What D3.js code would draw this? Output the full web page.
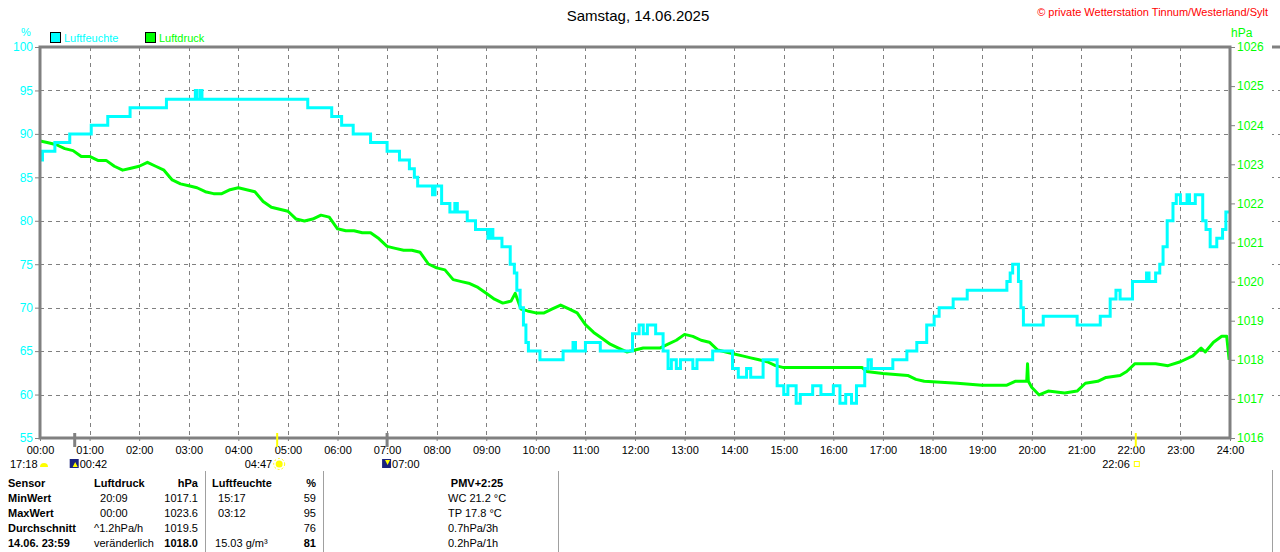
<!DOCTYPE html>
<html>
<head>
<meta charset="utf-8">
<script src="https://cdn.jsdelivr.net/npm/d3@7"></script>
<style>
  body { margin: 0; background: #fff; }
  svg { display: block; font-family: "Liberation Sans", Arial, sans-serif; }
</style>
</head>
<body>
<script>
// Luftfeuchte (%) - Stufen
const humTimes = ["00:00","00:03","00:18","00:36","01:02","01:22","01:49","02:33","03:08","03:10","03:14","03:16",
  "05:24","05:53","06:05","06:19","06:40","07:00","07:15","07:27","07:33","07:37","07:55","07:58","08:06","08:16",
  "08:22","08:25","08:37","08:47","09:02","09:05","09:08","09:19","09:29","09:34","09:37","09:41","09:45","09:48",
  "09:51","10:05","10:33","10:45","10:48","11:00","11:09","11:18","11:57","12:05","12:10","12:15","12:25","12:34",
  "12:40","12:44","12:50","12:55","13:10","13:15","13:34","13:58","14:05","14:15","14:20","14:35","14:52","15:00",
  "15:05","15:15","15:20","15:35","15:45","16:00","16:08","16:15","16:22","16:28","16:38","16:42","16:46","17:12",
  "17:29","17:41","17:53","18:02","18:08","18:25","18:42","19:30","19:34","19:37","19:44","19:47","19:50","20:14",
  "20:55","21:23","21:35","21:42","21:47","22:02","22:19","22:22","22:30","22:35","22:39","22:44","22:51","22:55",
  "23:00","23:08","23:11","23:18","23:27","23:31","23:36","23:44","23:51","23:55","23:59"];
const humValues = [87,88,89,90,91,92,93,94,95,94,95,94,
  93,92,91,90,89,88,87,86,85,84,83,84,82,81,
  82,81,80,79,78,79,78,77,75,74,72,70,68,66,
  65,64,65,66,65,66,66,65,67,68,67,68,67,65,
  63,64,63,64,63,64,65,63,62,63,62,64,61,60,
  61,59,60,61,60,61,59,60,59,61,63,64,63,64,
  65,66,68,69,70,71,72,73,74,75,73,70,68,69,
  68,69,71,72,71,73,74,73,74,75,77,80,82,83,
  82,83,82,83,80,79,77,78,79,81,81];

// Luftdruck (hPa)
const presTimes = ["00:00","00:10","00:20","00:30","00:40","00:50","01:00","01:10","01:20","01:30","01:40","01:50",
  "02:00","02:10","02:20","02:30","02:40","02:50","03:00","03:10","03:20","03:30","03:40","03:50","04:00","04:10",
  "04:20","04:30","04:40","04:50","05:00","05:10","05:20","05:30","05:40","05:50","06:00","06:10","06:20","06:30",
  "06:40","06:50","07:00","07:10","07:20","07:30","07:40","07:50","08:00","08:10","08:20","08:30","08:40","08:50",
  "09:00","09:10","09:20","09:30","09:35","09:42","09:50","10:00","10:10","10:20","10:30","10:40","10:50","11:00",
  "11:10","11:20","11:30","11:40","11:50","12:00","12:10","12:20","12:30","12:40","12:50","13:00","13:10","13:20",
  "13:30","13:40","13:50","14:00","14:10","14:20","14:30","14:40","14:50","15:00","15:30","16:00","16:35","16:40",
  "17:00","17:30","17:40","17:50","18:30","19:00","19:30","19:40","19:54","19:55","19:56","20:00","20:09","20:20",
  "20:40","20:55","21:05","21:20","21:30","21:47","21:55","22:05","22:30","22:45","23:00","23:15","23:25","23:30",
  "23:40","23:50","23:56","23:59"];
const presValues = [1023.6,1023.55,1023.5,1023.4,1023.35,1023.2,1023.2,1023.1,1023.1,1022.95,1022.85,1022.9,
  1022.95,1023.05,1022.95,1022.85,1022.6,1022.5,1022.45,1022.4,1022.3,1022.25,1022.25,1022.35,1022.4,1022.35,
  1022.3,1022.05,1021.9,1021.85,1021.8,1021.6,1021.55,1021.6,1021.7,1021.65,1021.35,1021.3,1021.3,1021.25,
  1021.25,1021.1,1020.9,1020.85,1020.8,1020.8,1020.75,1020.45,1020.35,1020.3,1020.05,1020.0,1019.95,1019.85,
  1019.7,1019.55,1019.45,1019.5,1019.7,1019.3,1019.25,1019.2,1019.2,1019.3,1019.4,1019.3,1019.2,1018.9,
  1018.7,1018.55,1018.4,1018.3,1018.2,1018.25,1018.3,1018.3,1018.3,1018.4,1018.5,1018.65,1018.6,1018.5,
  1018.45,1018.25,1018.2,1018.15,1018.1,1018.05,1018.0,1017.95,1017.85,1017.8,1017.8,1017.8,1017.8,1017.7,
  1017.65,1017.6,1017.5,1017.45,1017.4,1017.35,1017.35,1017.45,1017.45,1017.9,1017.45,1017.3,1017.1,1017.2,
  1017.15,1017.2,1017.4,1017.45,1017.55,1017.6,1017.7,1017.9,1017.9,1017.85,1017.95,1018.1,1018.3,1018.2,
  1018.45,1018.6,1018.6,1018.0];

const humTicks = [55, 60, 65, 70, 75, 80, 85, 90, 95, 100];
const presTicks = [1016, 1017, 1018, 1019, 1020, 1021, 1022, 1023, 1024, 1025, 1026];
const hourLabels = d3.range(0, 25).map(h => String(h).padStart(2, "0") + ":00");

// Mond/Sonne Ereignisse
const events = [
  { time: "00:42", label: "00:42", kind: "moonrise" },
  { time: "04:47", label: "04:47", kind: "sunrise" },
  { time: "07:00", label: "07:00", kind: "moonset" },
  { time: "22:06", label: "22:06", kind: "sunset" }
];

// Tabelle
const tableRows = [
  ["Sensor", "Luftdruck", "hPa", "Luftfeuchte", "%", "PMV+2:25"],
  ["MinWert", "  20:09", "1017.1", "  15:17", "59", "WC 21.2 °C"],
  ["MaxWert", "  00:00", "1023.6", "  03:12", "95", "TP 17.8 °C"],
  ["Durchschnitt", "^1.2hPa/h", "1019.5", "", "76", "0.7hPa/3h"],
  ["14.06. 23:59", "veränderlich", "1018.0", " 15.03 g/m³", "81", "0.2hPa/1h"]
];

const toMin = t => { const [h, m] = t.split(":").map(Number); return h * 60 + m; };

const W = 1280, H = 552;
const plotL = 40, plotR = 1230, plotT = 47, plotB = 438;
const CYAN = "#00ffff", GREEN = "#00ff00", GRAY = "#808080";

const svg = d3.select("body").append("svg").attr("width", W).attr("height", H);

const x = d3.scaleLinear().domain([0, 1440]).range([plotL, plotR]);
const yHum = d3.scaleLinear().domain([55, 100]).range([plotB, plotT]);
const yPres = d3.scaleLinear().domain([1016, 1026]).range([plotB, plotT]);

// Titel
svg.append("text").attr("x", 638).attr("y", 21).attr("text-anchor", "middle")
  .style("font-size", "15px").text("Samstag, 14.06.2025");
svg.append("text").attr("x", 1268).attr("y", 16).attr("text-anchor", "end")
  .style("font-size", "11px").attr("fill", "#ff0000")
  .text("© private Wetterstation Tinnum/Westerland/Sylt");

// Legende
const legend = [{ name: "Luftfeuchte", color: CYAN, x: 50 }, { name: "Luftdruck", color: GREEN, x: 145 }];
legend.forEach(l => {
  svg.append("rect").attr("x", l.x + 0.5).attr("y", 32.5).attr("width", 10).attr("height", 10)
    .attr("fill", l.color).attr("stroke", "#000");
  svg.append("text").attr("x", l.x + 14).attr("y", 42).attr("fill", l.color)
    .style("font-size", "11px").text(l.name);
});
svg.append("text").attr("x", 26).attr("y", 36).attr("text-anchor", "middle").attr("fill", CYAN)
  .style("font-size", "11px").text("%");
svg.append("text").attr("x", 1231).attr("y", 37).attr("fill", GREEN)
  .style("font-size", "12px").text("hPa");

// Gitter
const grid = svg.append("g").attr("stroke", GRAY).attr("stroke-width", 1).attr("stroke-dasharray", "4,4");
grid.selectAll("line.h").data(humTicks.filter(v => v > 55 && v < 100)).join("line")
  .attr("x1", plotL).attr("x2", plotR)
  .attr("y1", d => Math.round(yHum(d)) + 0.5).attr("y2", d => Math.round(yHum(d)) + 0.5);
grid.selectAll("line.v").data(d3.range(1, 24)).join("line")
  .attr("x1", d => Math.round(x(d * 60)) + 0.5).attr("x2", d => Math.round(x(d * 60)) + 0.5)
  .attr("y1", plotT).attr("y2", plotB);

// Linien
svg.append("clipPath").attr("id", "plot").append("rect")
  .attr("x", plotL).attr("y", plotT).attr("width", plotR - plotL).attr("height", plotB - plotT);

const humData = humTimes.map((t, i) => [toMin(t), humValues[i]]);
const presData = presTimes.map((t, i) => [toMin(t), presValues[i]]);

svg.append("path").datum(presData).attr("clip-path", "url(#plot)")
  .attr("fill", "none").attr("stroke", GREEN).attr("stroke-width", 3).attr("stroke-linejoin", "round")
  .attr("d", d3.line().x(d => x(d[0])).y(d => yPres(d[1])));
svg.append("path").datum(humData).attr("clip-path", "url(#plot)")
  .attr("fill", "none").attr("stroke", CYAN).attr("stroke-width", 3)
  .attr("d", d3.line().curve(d3.curveStepAfter).x(d => x(d[0])).y(d => yHum(d[1])));

// Achsen
const axL = svg.append("g").attr("transform", `translate(${plotL},0)`)
  .call(d3.axisLeft(yHum).tickValues(humTicks).tickSize(5).tickPadding(2));
axL.select(".domain").remove();
axL.selectAll("line").attr("stroke", GRAY);
axL.selectAll("text").attr("fill", CYAN).style("font-size", "12px").style("font-family", "inherit");

const axR = svg.append("g").attr("transform", `translate(${plotR},0)`)
  .call(d3.axisRight(yPres).tickValues(presTicks).tickSize(5).tickPadding(2).tickFormat(d3.format("d")));
axR.select(".domain").remove();
axR.selectAll("line").attr("stroke", GRAY);
axR.selectAll("text").attr("fill", GREEN).style("font-size", "12px").style("font-family", "inherit");

const axB = svg.append("g").attr("transform", `translate(0,${plotB})`)
  .call(d3.axisBottom(x).tickValues(d3.range(0, 1441, 60)).tickSize(3).tickPadding(5)
    .tickFormat((d, i) => hourLabels[i]));
axB.select(".domain").remove();
axB.selectAll("line").attr("stroke", GRAY);
axB.selectAll("text").attr("fill", "#000").style("font-size", "11px").style("font-family", "inherit");

// Rahmen
svg.append("path").attr("fill", "none").attr("stroke", GRAY).attr("stroke-width", 3)
  .attr("d", `M${plotL},${plotT}H${plotR}V${plotB}H${plotL}Z`);

// Mond / Sonne
const ev = svg.append("g");
events.forEach(e => {
  const ex = x(toMin(e.time));
  const isSun = e.kind.startsWith("sun");
  ev.append("line").attr("x1", ex).attr("x2", ex).attr("y1", plotB - 5).attr("y2", plotB + 9)
    .attr("stroke", isSun ? "#ffff00" : GRAY).attr("stroke-width", isSun ? 2 : 3);
  if (e.kind === "moonrise" || e.kind === "moonset") {
    const up = e.kind === "moonrise";
    ev.append("rect").attr("x", ex - 5).attr("y", 459).attr("width", 9).attr("height", 9).attr("fill", "#1a237e");
    ev.append("path").attr("d", `M${ex - 2},${up ? 467 : 460}l2.5,${up ? -5 : 5}l2.5,${up ? 5 : -5}z`)
      .attr("fill", "#ffff00");
    ev.append("text").attr("x", ex + 5).attr("y", 468).style("font-size", "11px").text(e.label);
  } else if (e.kind === "sunrise") {
    ev.append("circle").attr("cx", ex + 2).attr("cy", 464).attr("r", 3.5).attr("fill", "#ffff00");
    ev.append("circle").attr("cx", ex + 2).attr("cy", 464).attr("r", 5.5).attr("fill", "none")
      .attr("stroke", "#ffff00").attr("stroke-dasharray", "2,2");
    ev.append("text").attr("x", ex - 5).attr("y", 468).attr("text-anchor", "end").style("font-size", "11px").text(e.label);
  } else {
    ev.append("rect").attr("x", ex - 1.5).attr("y", 461.5).attr("width", 5).attr("height", 5)
      .attr("fill", "none").attr("stroke", "#ffff00");
    ev.append("text").attr("x", ex - 6).attr("y", 468).attr("text-anchor", "end").style("font-size", "11px").text(e.label);
  }
});
// Monduntergang vom Vortag
ev.append("text").attr("x", 10).attr("y", 468).style("font-size", "11px").text("17:18");
ev.append("path").attr("d", "M40,467a4,4 0 0 1 8,0z").attr("fill", "#ffff00");

// Tabelle
const tbl = svg.append("g").style("font-size", "11px");
[205, 323, 558].forEach(sx => tbl.append("line").attr("x1", sx + 0.5).attr("x2", sx + 0.5)
  .attr("y1", 471).attr("y2", H).attr("stroke", "#a0a0a0"));
const cols = [
  { x: 8, anchor: "start", bold: () => true },
  { x: 94, anchor: "start", bold: r => r === 0 },
  { x: 198, anchor: "end", bold: r => r === 0 || r === 4 },
  { x: 212, anchor: "start", bold: r => r === 0 },
  { x: 316, anchor: "end", bold: r => r === 0 || r === 4 },
  { x: 448, anchor: "start", bold: r => r === 0 }
];
tableRows.forEach((row, r) => {
  row.forEach((cell, c) => {
    const col = cols[c];
    const centered = c === 5 && r === 0;
    tbl.append("text").attr("x", centered ? 477 : col.x).attr("y", 487 + r * 15)
      .attr("text-anchor", centered ? "middle" : col.anchor)
      .style("font-weight", col.bold(r) ? "bold" : "normal")
      .style("white-space", "pre")
      .text(cell);
  });
});

// Anschnitt der folgenden Grafik
const nx = 1272;
svg.append("line").attr("x1", nx).attr("x2", W).attr("y1", plotT).attr("y2", plotT)
  .attr("stroke", GRAY).attr("stroke-width", 3);
svg.append("g").selectAll("line").data(humTicks.filter(v => v > 55 && v < 100)).join("line")
  .attr("x1", nx).attr("x2", W).attr("y1", d => Math.round(yHum(d)) + 0.5).attr("y2", d => Math.round(yHum(d)) + 0.5)
  .attr("stroke", GRAY).attr("stroke-dasharray", "2,4");
svg.append("line").attr("x1", nx + 0.5).attr("x2", nx + 0.5).attr("y1", 470).attr("y2", H).attr("stroke", "#a0a0a0");
</script>
</body>
</html>
